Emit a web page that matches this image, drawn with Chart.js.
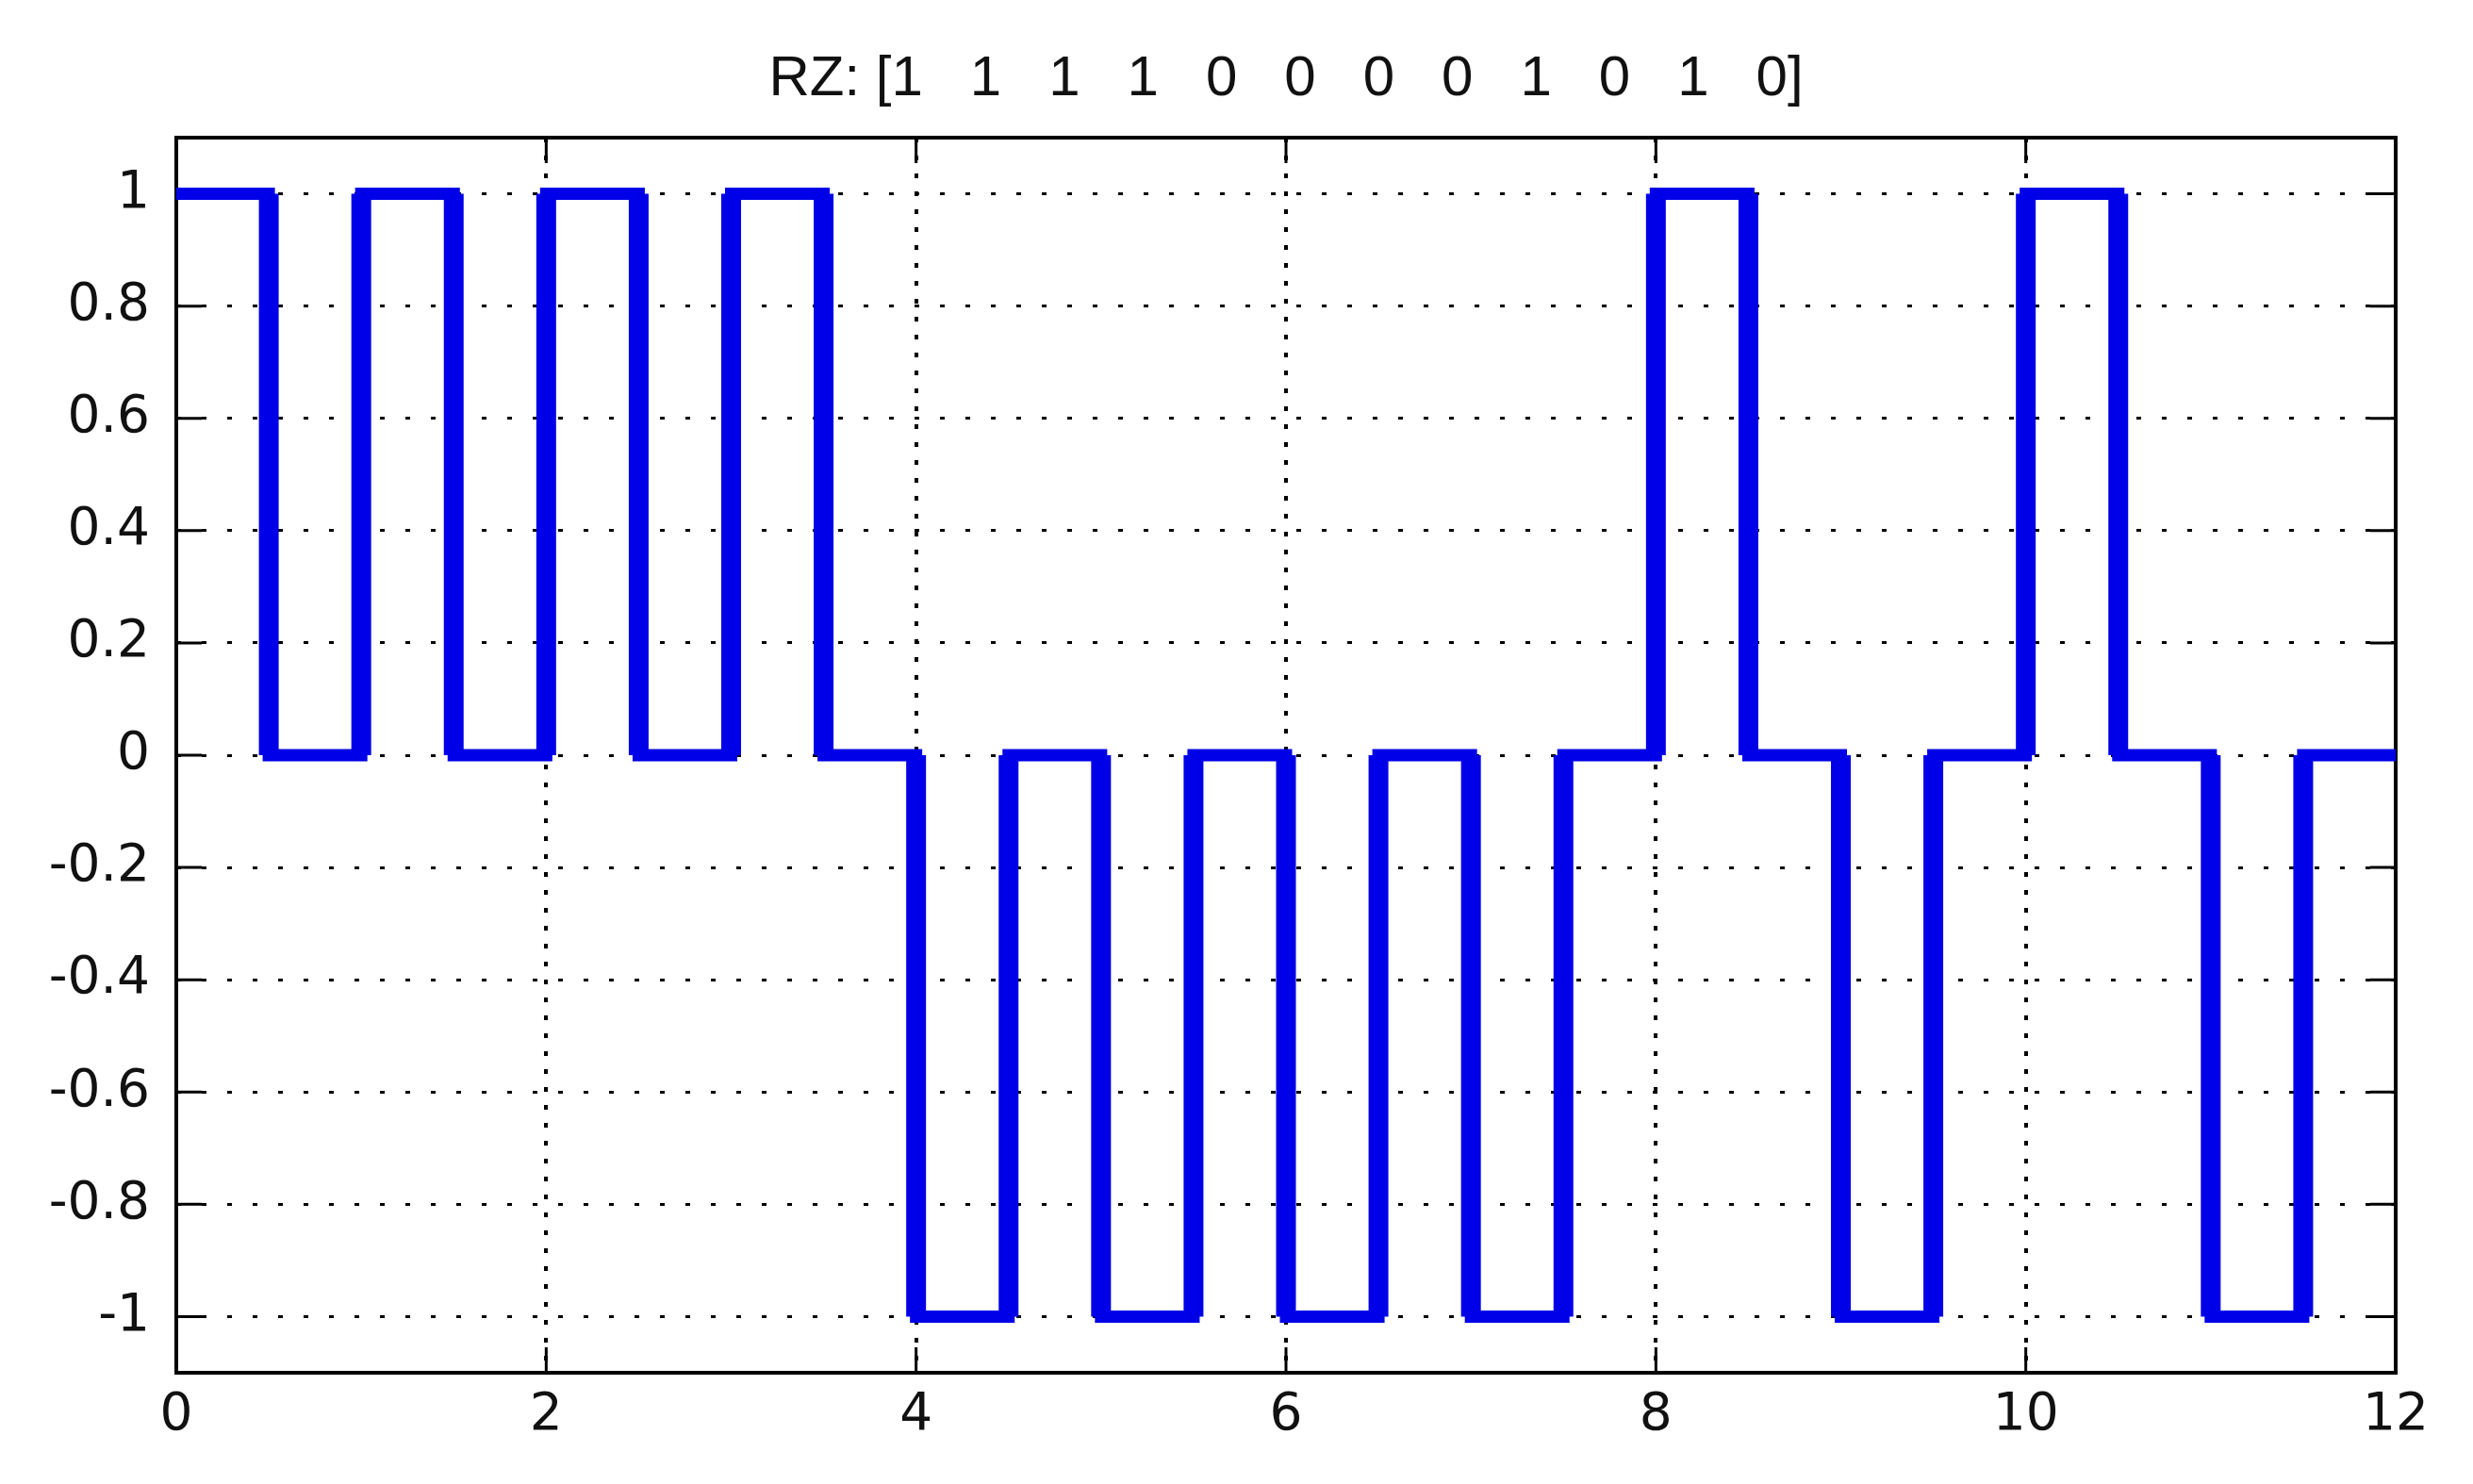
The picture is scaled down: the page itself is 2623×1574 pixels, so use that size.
<!DOCTYPE html>
<html>
<head>
<meta charset="utf-8">
<title>RZ line code</title>
<script src="https://cdn.jsdelivr.net/npm/chart.js@4.4.1/dist/chart.umd.min.js"></script>
<style>
  html, body { margin: 0; padding: 0; background: #fff; }
  #wrap { width: 2623px; height: 1574px; }
</style>
</head>
<body>
<div id="wrap"><canvas id="rzChart"></canvas></div>
<script>
// bit stream shown in the title
const bits = [1, 1, 1, 1, 0, 0, 0, 0, 1, 0, 1, 0];

// polar RZ waveform: corner points (time, level)
const waveT = [
  0, 0.5, 0.5, 1, 1, 1.5, 1.5, 2, 2, 2.5, 2.5, 3, 3, 3.5, 3.5, 4,
  4, 4.5, 4.5, 5, 5, 5.5, 5.5, 6, 6, 6.5, 6.5, 7, 7, 7.5, 7.5, 8,
  8, 8.5, 8.5, 9, 9, 9.5, 9.5, 10, 10, 10.5, 10.5, 11, 11, 11.5, 11.5, 12
];
const waveLevel = [
  1, 1, 0, 0, 1, 1, 0, 0, 1, 1, 0, 0, 1, 1, 0, 0,
  -1, -1, 0, 0, -1, -1, 0, 0, -1, -1, 0, 0, -1, -1, 0, 0,
  1, 1, 0, 0, -1, -1, 0, 0, 1, 1, 0, 0, -1, -1, 0, 0
];

const xTicks = [0, 2, 4, 6, 8, 10, 12];
const yTicks = [-1, -0.8, -0.6, -0.4, -0.2, 0, 0.2, 0.4, 0.6, 0.8, 1];

const TITLE_FONT = '"Liberation Sans", Arial, Helvetica, sans-serif';
const TICK_FONT = '"DejaVu Sans", Verdana, sans-serif';

// matlab style box with inward ticks on all four sides
const matlabBox = {
  id: 'matlabBox',
  beforeDatasetsDraw(chart) {
    const { ctx, chartArea: a, scales: { x, y } } = chart;
    const len = 27;
    ctx.save();
    ctx.strokeStyle = '#000';
    ctx.lineWidth = 3;
    ctx.beginPath();
    xTicks.forEach(v => {
      const px = x.getPixelForValue(v);
      ctx.moveTo(px, a.bottom);
      ctx.lineTo(px, a.bottom - len);
      ctx.moveTo(px, a.top);
      ctx.lineTo(px, a.top + len);
    });
    yTicks.forEach(v => {
      const py = y.getPixelForValue(v);
      ctx.moveTo(a.left, py);
      ctx.lineTo(a.left + len, py);
      ctx.moveTo(a.right, py);
      ctx.lineTo(a.right - len, py);
    });
    ctx.stroke();
    ctx.lineWidth = 4;
    ctx.strokeRect(a.left, a.top, a.width, a.height);
    ctx.restore();
  }
};

const isVertical = c => c.p0.parsed.x === c.p1.parsed.x;

const ctx = document.getElementById('rzChart').getContext('2d');
new Chart(ctx, {
  type: 'scatter',
  data: {
    datasets: [{
      label: 'RZ',
      data: waveT.map((t, i) => ({ x: t, y: waveLevel[i] })),
      showLine: true,
      borderColor: '#0000e8',
      borderWidth: 13,
      pointRadius: 0,
      tension: 0,
      fill: false,
      segment: {
        borderWidth: c => isVertical(c) ? 21 : 13,
        borderCapStyle: c => isVertical(c) ? 'butt' : 'square'
      }
    }]
  },
  options: {
    responsive: true,
    maintainAspectRatio: false,
    animation: false,
    layout: { padding: { left: 0, right: 82, top: 0, bottom: 0 } },
    plugins: {
      legend: { display: false },
      tooltip: { enabled: false },
      title: {
        display: true,
        fullSize: false,
        text: 'RZ: [' + bits.join('   ') + ']',
        color: '#111',
        font: { family: TITLE_FONT, size: 60, weight: 'normal' },
        padding: { top: 48, bottom: 26 }
      }
    },
    scales: {
      x: {
        type: 'linear',
        min: 0,
        max: 12,
        afterBuildTicks: s => { s.ticks = xTicks.map(v => ({ value: v })); },
        afterFit: s => { s.height = 118; },
        ticks: {
          color: '#111',
          padding: 13,
          maxRotation: 0,
          font: { family: TICK_FONT, size: 55 },
          callback: v => String(v)
        },
        grid: { color: '#000', lineWidth: 4, drawTicks: false },
        border: { display: false, dash: [5, 14] }
      },
      y: {
        type: 'linear',
        min: -1.1,
        max: 1.1,
        afterBuildTicks: s => { s.ticks = yTicks.map(v => ({ value: v })); },
        afterFit: s => { s.width = 187; },
        ticks: {
          color: '#111',
          padding: 28,
          font: { family: TICK_FONT, size: 55 },
          callback: v => String(Math.round(v * 10) / 10)
        },
        grid: { color: '#000', lineWidth: 3, drawTicks: false },
        border: { display: false, dash: [5, 22] }
      }
    }
  },
  plugins: [matlabBox]
});
</script>
</body>
</html>
